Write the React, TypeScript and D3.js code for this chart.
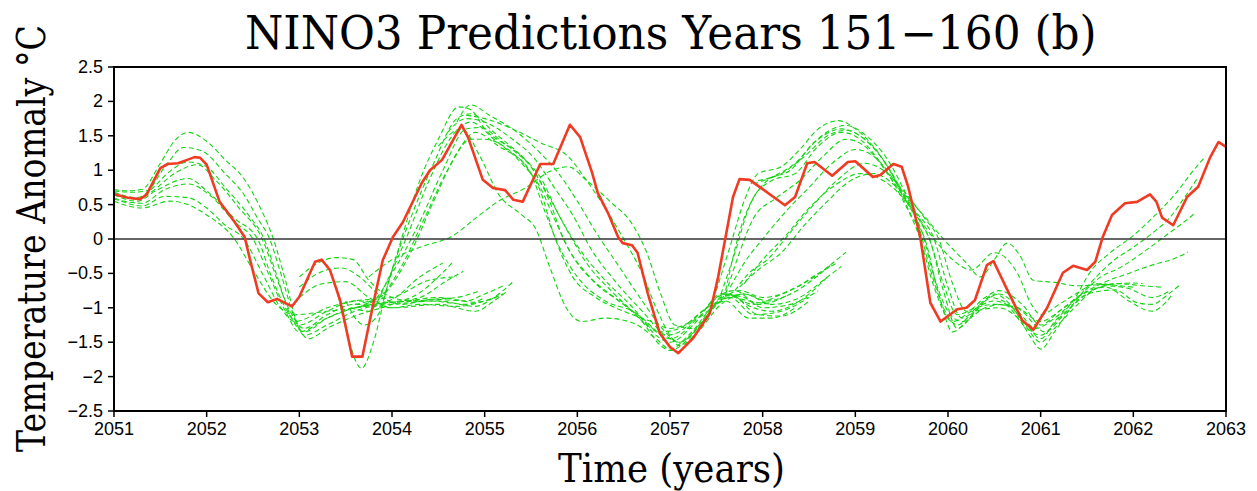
import React, { useEffect, useRef } from "react";
import * as d3 from "d3";

type Pt = [number, number];

// observed NINO3 anomaly (red)
const observed: Pt[] = [
  [2051.0, 0.65], [2051.15, 0.6], [2051.28, 0.58], [2051.35, 0.64], [2051.5, 1.03], [2051.58, 1.09],
  [2051.69, 1.1], [2051.79, 1.15], [2051.87, 1.19], [2051.93, 1.18], [2052.0, 1.08], [2052.14, 0.54],
  [2052.3, 0.25], [2052.41, 0.03], [2052.47, -0.31], [2052.56, -0.79], [2052.66, -0.92], [2052.76, -0.87],
  [2052.92, -0.98], [2053.0, -0.84], [2053.17, -0.33], [2053.24, -0.3], [2053.33, -0.45], [2053.44, -0.89],
  [2053.57, -1.71], [2053.68, -1.71], [2053.8, -0.93], [2053.9, -0.31], [2054.01, 0.03], [2054.12, 0.25],
  [2054.32, 0.81], [2054.41, 1.0], [2054.54, 1.15], [2054.66, 1.44], [2054.75, 1.66], [2054.82, 1.48],
  [2054.98, 0.86], [2055.09, 0.74], [2055.22, 0.71], [2055.31, 0.57], [2055.41, 0.54], [2055.6, 1.09],
  [2055.74, 1.09], [2055.92, 1.66], [2056.03, 1.48], [2056.16, 0.96], [2056.22, 0.67], [2056.33, 0.38],
  [2056.44, 0.03], [2056.49, -0.06], [2056.59, -0.09], [2056.65, -0.2], [2056.76, -0.79], [2056.89, -1.37],
  [2057.0, -1.57], [2057.09, -1.66], [2057.25, -1.44], [2057.43, -1.08], [2057.52, -0.55], [2057.68, 0.61],
  [2057.75, 0.87], [2057.86, 0.86], [2058.24, 0.49], [2058.35, 0.61], [2058.48, 1.1], [2058.56, 1.12],
  [2058.75, 0.92], [2058.92, 1.12], [2059.0, 1.13], [2059.19, 0.9], [2059.27, 0.93], [2059.41, 1.09],
  [2059.5, 1.05], [2059.57, 0.76], [2059.7, 0.03], [2059.81, -0.93], [2059.92, -1.2], [2060.1, -1.02],
  [2060.2, -1.0], [2060.29, -0.89], [2060.42, -0.38], [2060.49, -0.32], [2060.64, -0.74], [2060.8, -1.18],
  [2060.92, -1.32], [2061.07, -1.0], [2061.24, -0.49], [2061.35, -0.39], [2061.5, -0.45], [2061.59, -0.33],
  [2061.67, 0.03], [2061.77, 0.35], [2061.91, 0.52], [2062.04, 0.54], [2062.18, 0.65], [2062.25, 0.54],
  [2062.31, 0.31], [2062.43, 0.2], [2062.58, 0.61], [2062.7, 0.76], [2062.83, 1.19], [2062.92, 1.41],
  [2063.0, 1.34],
];

// forecasts started in 2051-2053
const forecastsA: Pt[][] = [
  [[2051.0, 0.72], [2051.15, 0.7], [2051.3, 0.72], [2051.5, 1.1], [2051.65, 1.42], [2051.8, 1.55], [2052.0, 1.42], [2052.2, 1.15], [2052.4, 0.88], [2052.58, 0.45], [2052.72, 0.0], [2052.85, -0.6], [2052.97, -1.2], [2053.1, -1.45], [2053.3, -1.3], [2053.6, -1.12], [2054.0, -0.95], [2054.3, -0.78], [2054.5, -0.55], [2054.66, -0.33]],
  [[2051.0, 0.7], [2051.2, 0.68], [2051.35, 0.7], [2051.55, 1.05], [2051.75, 1.33], [2051.95, 1.28], [2052.2, 0.95], [2052.4, 0.65], [2052.55, 0.3], [2052.68, 0.0], [2052.8, -0.5], [2052.95, -1.15], [2053.05, -1.4], [2053.3, -1.25], [2053.6, -1.05], [2054.0, -0.92], [2054.3, -0.85], [2054.6, -0.6], [2054.77, -0.47]],
  [[2051.0, 0.68], [2051.25, 0.6], [2051.4, 0.72], [2051.6, 0.98], [2051.8, 1.12], [2052.0, 1.05], [2052.2, 0.75], [2052.45, 0.35], [2052.62, 0.0], [2052.75, -0.5], [2052.9, -1.1], [2053.05, -1.35], [2053.3, -1.15], [2053.6, -1.0], [2054.0, -0.95], [2054.5, -0.9], [2054.9, -0.98], [2055.1, -0.85], [2055.3, -0.63]],
  [[2051.0, 0.66], [2051.25, 0.58], [2051.4, 0.68], [2051.65, 0.95], [2051.9, 1.08], [2052.1, 0.85], [2052.35, 0.45], [2052.6, 0.0], [2052.75, -0.55], [2052.9, -1.05], [2053.05, -1.3], [2053.3, -1.1], [2053.6, -0.95], [2054.0, -1.0], [2054.5, -0.95], [2054.9, -1.05], [2055.1, -0.9], [2055.25, -0.75]],
  [[2051.0, 0.64], [2051.25, 0.55], [2051.45, 0.7], [2051.8, 0.88], [2052.0, 0.7], [2052.3, 0.3], [2052.55, 0.0], [2052.7, -0.55], [2052.85, -1.0], [2053.0, -1.25], [2053.3, -1.05], [2053.6, -0.9], [2054.0, -0.92], [2054.5, -0.85], [2054.9, -0.92], [2055.2, -0.8]],
  [[2051.0, 0.6], [2051.3, 0.48], [2051.55, 0.62], [2051.8, 0.6], [2052.0, 0.45], [2052.2, 0.2], [2052.4, 0.0], [2052.6, -0.5], [2052.8, -1.0], [2052.95, -1.2], [2053.3, -1.0], [2053.6, -0.9], [2054.0, -0.85], [2054.4, -0.6], [2054.7, -0.55]],
  [[2051.0, 0.55], [2051.3, 0.45], [2051.6, 0.55], [2051.8, 0.5], [2052.0, 0.35], [2052.3, 0.0], [2052.5, -0.45], [2052.75, -0.95], [2052.95, -1.1], [2053.3, -1.05], [2053.6, -1.0], [2054.0, -0.88], [2054.3, -0.55], [2054.55, -0.35]],
  [[2051.0, 0.58], [2051.3, 0.52], [2051.55, 0.72], [2051.8, 0.8], [2052.05, 0.62], [2052.3, 0.25], [2052.5, 0.0], [2052.65, -0.45], [2052.85, -1.05], [2053.0, -1.35], [2053.3, -1.15], [2053.6, -1.0], [2054.0, -0.92], [2054.4, -0.9], [2054.8, -0.95], [2055.0, -0.85]],
  [[2053.0, -0.55], [2053.2, -0.35], [2053.4, -0.27], [2053.58, -0.3], [2053.75, -0.6], [2053.95, -0.82], [2054.2, -0.9], [2054.5, -0.88], [2054.8, -0.9], [2055.0, -0.8], [2055.2, -0.68]],
  [[2053.0, -0.7], [2053.2, -0.5], [2053.45, -0.42], [2053.65, -0.55], [2053.85, -0.8], [2054.1, -0.95], [2054.4, -0.88], [2054.7, -0.85], [2054.95, -0.75]],
  [[2053.0, -0.85], [2053.25, -0.65], [2053.5, -0.62], [2053.75, -0.85], [2054.0, -1.0], [2054.3, -0.95], [2054.7, -0.98], [2054.95, -0.92], [2055.2, -0.8]],
];

// forecasts started in 2053-2054
const forecastsB: Pt[][] = [
  [[2053.4, -0.7], [2053.52, -1.4], [2053.67, -1.88], [2053.8, -1.5], [2053.94, -0.74], [2054.08, -0.1], [2054.3, 0.85], [2054.5, 1.45], [2054.72, 1.92], [2054.85, 1.88], [2055.0, 1.6], [2055.3, 1.3], [2055.5, 1.05], [2055.7, 0.6], [2055.9, 0.1], [2056.1, -0.35], [2056.4, -0.8], [2056.7, -1.2], [2056.9, -1.55], [2057.0, -1.62], [2057.2, -1.45], [2057.45, -1.0], [2057.6, -0.8], [2057.9, -0.95], [2058.2, -0.8], [2058.5, -0.6], [2058.9, -0.19]],
  [[2053.5, -0.9], [2053.7, -1.25], [2053.85, -1.1], [2054.0, -0.45], [2054.2, 0.3], [2054.45, 1.1], [2054.7, 1.75], [2054.85, 1.82], [2055.1, 1.55], [2055.4, 1.2], [2055.6, 0.9], [2055.8, 0.35], [2056.0, -0.1], [2056.3, -0.6], [2056.6, -1.0], [2056.85, -1.4], [2057.0, -1.5], [2057.25, -1.25], [2057.5, -0.85], [2057.7, -0.75], [2057.95, -0.95], [2058.3, -0.8], [2058.76, -0.35]],
  [[2053.55, -1.0], [2053.75, -1.05], [2053.95, -0.6], [2054.15, 0.0], [2054.4, 0.85], [2054.65, 1.5], [2054.85, 1.7], [2055.1, 1.45], [2055.4, 1.1], [2055.6, 0.75], [2055.75, 0.3], [2055.95, -0.25], [2056.2, -0.65], [2056.5, -0.95], [2056.8, -1.3], [2057.0, -1.45], [2057.3, -1.15], [2057.55, -0.8], [2057.8, -0.85], [2058.0, -1.0], [2058.3, -0.95], [2058.6, -0.75]],
  [[2053.6, -1.0], [2053.8, -0.9], [2054.0, -0.5], [2054.3, 0.25], [2054.55, 1.0], [2054.8, 1.6], [2054.95, 1.62], [2055.2, 1.4], [2055.5, 1.05], [2055.7, 0.55], [2055.85, 0.0], [2056.1, -0.5], [2056.4, -0.85], [2056.7, -1.15], [2056.95, -1.4], [2057.1, -1.35], [2057.35, -1.05], [2057.6, -0.8], [2057.9, -1.0], [2058.1, -1.05], [2058.4, -0.9], [2058.7, -0.55]],
  [[2053.6, -0.95], [2053.9, -0.8], [2054.1, -0.4], [2054.35, 0.3], [2054.6, 1.0], [2054.85, 1.45], [2055.0, 1.45], [2055.3, 1.25], [2055.5, 0.95], [2055.65, 0.4], [2055.8, -0.1], [2056.0, -0.55], [2056.3, -0.9], [2056.6, -1.05], [2056.9, -1.35], [2057.1, -1.3], [2057.4, -1.0], [2057.65, -0.85], [2057.9, -1.1], [2058.2, -1.05], [2058.5, -0.85]],
  [[2053.7, -0.95], [2053.95, -0.75], [2054.2, -0.2], [2054.45, 0.55], [2054.7, 1.25], [2054.9, 1.55], [2055.15, 1.35], [2055.45, 1.05], [2055.6, 0.7], [2055.75, 0.05], [2055.95, -0.55], [2056.2, -0.85], [2056.5, -1.05], [2056.8, -1.2], [2057.0, -1.3], [2057.3, -1.15], [2057.6, -0.9], [2057.85, -1.15], [2058.1, -1.15], [2058.35, -1.0]],
  [[2054.5, 1.35], [2054.75, 1.6], [2054.95, 1.2], [2055.15, 0.65], [2055.4, 0.35], [2055.55, 0.15], [2055.7, -0.4], [2055.88, -1.0], [2056.05, -1.2], [2056.3, -1.15], [2056.6, -1.22], [2056.85, -1.45], [2057.0, -1.6], [2057.2, -1.4], [2057.45, -1.0], [2057.65, -0.8], [2057.95, -1.1], [2058.2, -1.12], [2058.5, -0.9]],
  [[2053.75, -0.55], [2054.0, -0.3], [2054.3, -0.12], [2054.66, 0.05], [2054.9, 0.3], [2055.15, 0.55], [2055.45, 0.75], [2055.7, 0.98], [2055.9, 1.05], [2056.1, 0.85], [2056.35, 0.55], [2056.6, 0.2], [2056.75, -0.2], [2056.9, -0.8], [2057.05, -1.25], [2057.25, -1.3], [2057.5, -0.95], [2057.75, -0.75], [2058.0, -0.85], [2058.3, -0.75], [2058.6, -0.5], [2058.8, -0.35]],
  [[2054.6, 1.55], [2054.8, 1.75], [2055.0, 1.7], [2055.3, 1.45], [2055.55, 1.15], [2055.75, 0.75], [2055.95, 0.35], [2056.15, -0.15], [2056.4, -0.6], [2056.7, -1.05], [2056.95, -1.4], [2057.1, -1.5], [2057.35, -1.2], [2057.6, -0.82], [2057.85, -0.9], [2058.1, -0.95]],
  [[2054.7, 1.7], [2054.85, 1.95], [2055.05, 1.8], [2055.35, 1.55], [2055.6, 1.25], [2055.8, 0.95], [2056.0, 0.55], [2056.2, 0.1], [2056.45, -0.4], [2056.7, -0.9], [2056.95, -1.35], [2057.1, -1.5], [2057.3, -1.3], [2057.55, -0.9], [2057.8, -0.8], [2058.1, -0.95], [2058.4, -0.85], [2058.7, -0.55], [2058.85, -0.4]],
  [[2054.8, 1.8], [2055.0, 1.75], [2055.3, 1.6], [2055.6, 1.4], [2055.9, 1.2], [2056.1, 0.85], [2056.3, 0.45], [2056.5, 0.0], [2056.7, -0.5], [2056.85, -1.0], [2057.0, -1.4], [2057.1, -1.55], [2057.3, -1.35], [2057.55, -0.95], [2057.8, -0.8], [2058.05, -0.9], [2058.3, -0.8]],
];

// forecasts started in 2057-2058
const forecastsC: Pt[][] = [
  [[2057.5, -0.75], [2057.65, -0.1], [2057.8, 0.55], [2057.95, 0.95], [2058.2, 1.05], [2058.4, 1.3], [2058.6, 1.6], [2058.82, 1.72], [2059.0, 1.6], [2059.25, 1.25], [2059.45, 0.8], [2059.6, 0.35], [2059.75, 0.0], [2059.9, -0.8], [2060.05, -1.35], [2060.2, -1.2], [2060.45, -0.85], [2060.65, -0.95], [2060.85, -1.25], [2061.0, -1.45], [2061.15, -1.2], [2061.35, -0.9], [2061.55, -0.45], [2061.75, -0.2], [2062.0, 0.05], [2062.2, 0.3], [2062.45, 0.65], [2062.65, 1.0], [2062.78, 1.2]],
  [[2057.55, -0.8], [2057.7, -0.2], [2057.85, 0.45], [2058.05, 0.85], [2058.3, 1.0], [2058.55, 1.4], [2058.9, 1.65], [2059.1, 1.52], [2059.35, 1.15], [2059.55, 0.65], [2059.7, 0.25], [2059.8, 0.0], [2059.95, -0.75], [2060.1, -1.3], [2060.3, -1.05], [2060.5, -0.8], [2060.7, -1.0], [2060.88, -1.4], [2061.0, -1.6], [2061.15, -1.35], [2061.35, -0.95], [2061.6, -0.55], [2061.78, -0.32], [2062.0, -0.12], [2062.2, 0.08], [2062.4, 0.32], [2062.55, 0.6], [2062.7, 0.9]],
  [[2057.6, -0.75], [2057.75, 0.1], [2057.9, 0.6], [2058.1, 0.85], [2058.35, 0.95], [2058.6, 1.35], [2058.85, 1.55], [2059.05, 1.45], [2059.3, 1.05], [2059.5, 0.6], [2059.7, 0.0], [2059.85, -0.7], [2060.05, -1.2], [2060.25, -1.05], [2060.5, -0.9], [2060.75, -1.05], [2060.95, -1.3], [2061.15, -1.15], [2061.4, -0.85], [2061.65, -0.55], [2061.85, -0.42], [2062.1, -0.2], [2062.35, 0.05], [2062.55, 0.25], [2062.67, 0.38]],
  [[2057.6, -0.8], [2057.75, -0.2], [2057.9, 0.3], [2058.15, 0.6], [2058.4, 0.85], [2058.65, 1.2], [2058.9, 1.45], [2059.1, 1.35], [2059.35, 0.95], [2059.6, 0.45], [2059.8, 0.0], [2059.95, -0.65], [2060.1, -1.1], [2060.3, -1.0], [2060.5, -0.95], [2060.75, -1.0], [2061.0, -1.2], [2061.2, -1.05], [2061.45, -0.8], [2061.7, -0.62], [2061.95, -0.5], [2062.2, -0.38], [2062.45, -0.28], [2062.59, -0.19]],
  [[2057.65, -0.7], [2057.8, -0.35], [2058.0, 0.0], [2058.25, 0.4], [2058.5, 0.75], [2058.75, 1.1], [2059.0, 1.3], [2059.2, 1.2], [2059.45, 0.8], [2059.65, 0.4], [2059.85, 0.0], [2060.0, -0.7], [2060.15, -1.15], [2060.35, -0.95], [2060.55, -0.8], [2060.8, -1.05], [2061.05, -1.35], [2061.25, -1.1], [2061.5, -0.8], [2061.8, -0.74], [2062.05, -0.93], [2062.2, -0.95], [2062.38, -0.8], [2062.5, -0.67]],
  [[2057.7, -0.75], [2057.85, -0.5], [2058.05, -0.3], [2058.3, 0.1], [2058.55, 0.5], [2058.8, 0.85], [2059.1, 1.1], [2059.3, 1.0], [2059.55, 0.65], [2059.75, 0.3], [2059.9, 0.0], [2060.05, -0.65], [2060.2, -1.05], [2060.4, -0.85], [2060.55, -0.75], [2060.8, -0.95], [2061.0, -1.25], [2061.2, -1.05], [2061.45, -0.8], [2061.7, -0.7], [2061.95, -0.9], [2062.2, -1.05], [2062.35, -0.92], [2062.43, -0.79]],
  [[2057.75, -0.7], [2057.95, -0.45], [2058.2, -0.2], [2058.45, 0.2], [2058.7, 0.55], [2058.95, 0.85], [2059.2, 0.95], [2059.45, 0.75], [2059.7, 0.4], [2059.95, 0.0], [2060.2, -0.35], [2060.35, -0.55], [2060.5, -0.3], [2060.64, -0.06], [2060.78, -0.25], [2060.92, -0.6], [2061.15, -0.63], [2061.4, -0.68], [2061.7, -0.66], [2062.0, -0.64], [2062.1, -0.65]],
  [[2057.8, -0.65], [2058.0, -0.3], [2058.25, 0.05], [2058.5, 0.45], [2058.8, 0.8], [2059.05, 0.95], [2059.3, 0.85], [2059.55, 0.55], [2059.85, 0.0], [2060.05, -0.3], [2060.25, -0.45], [2060.5, -0.2], [2060.75, -0.5], [2060.9, -0.95], [2061.0, -1.1], [2061.2, -0.95], [2061.4, -0.78], [2061.6, -0.65], [2061.85, -0.68], [2062.0, -0.7]],
  [[2057.9, 0.8], [2058.1, 0.9], [2058.35, 1.1], [2058.6, 1.45], [2058.85, 1.6], [2059.05, 1.5], [2059.3, 1.15], [2059.5, 0.7], [2059.68, 0.2], [2059.8, -0.4], [2059.95, -1.0], [2060.1, -1.25], [2060.3, -1.05], [2060.55, -1.0], [2060.8, -1.2], [2061.0, -1.5], [2061.15, -1.3], [2061.4, -0.95], [2061.6, -0.72], [2061.85, -0.65], [2062.1, -0.68], [2062.3, -0.7]],
  [[2057.95, 0.85], [2058.2, 0.95], [2058.45, 1.2], [2058.7, 1.5], [2058.9, 1.58], [2059.1, 1.45], [2059.35, 1.05], [2059.55, 0.55], [2059.72, 0.1], [2059.85, -0.55], [2060.0, -1.05], [2060.15, -1.2], [2060.4, -1.0], [2060.6, -0.95], [2060.85, -1.3], [2061.0, -1.4], [2061.2, -1.15], [2061.45, -0.85], [2061.7, -0.68], [2061.95, -0.72], [2062.2, -0.85], [2062.4, -0.75]],
];

const xTicks = [2051, 2052, 2053, 2054, 2055, 2056, 2057, 2058, 2059, 2060, 2061, 2062, 2063];
const yTicks = [2.5, 2, 1.5, 1, 0.5, 0, -0.5, -1, -1.5, -2, -2.5];

const title = "NINO3 Predictions Years 151\u2212160 (b)";
const yTitle = "Temperature Anomaly \u00B0C";
const xTitle = "Time (years)";

const W = 1257;
const H = 491;

const App = () => {
  const svgRef = useRef<SVGSVGElement | null>(null);

  useEffect(() => {
    if (!svgRef.current) return;
    const svg = d3.select(svgRef.current);
    svg.selectAll("*").remove();

    const left = 114, right = 1226, top = 67, bottom = 411;

    const x = d3.scaleLinear().domain([2051, 2063]).range([left, right]);
    const y = d3.scaleLinear().domain([-2.5, 2.5]).range([bottom, top]);

    svg.append("rect").attr("width", W).attr("height", H).attr("fill", "#fff");

    const clip = svg.append("clipPath").attr("id", "plotclip");
    clip.append("rect").attr("x", left).attr("y", top).attr("width", right - left).attr("height", bottom - top);

    const plot = svg.append("g").attr("clip-path", "url(#plotclip)");

    // green forecast members
    const smooth = d3
      .line<Pt>()
      .x((d) => x(d[0]))
      .y((d) => y(d[1]))
      .curve(d3.curveMonotoneX);

    [...forecastsA, ...forecastsB, ...forecastsC].forEach((series) => {
      plot
        .append("path")
        .attr("d", smooth(series))
        .attr("fill", "none")
        .attr("stroke", "#14d414")
        .attr("stroke-width", 1.1)
        .attr("stroke-dasharray", "5,3");
    });

    // zero line
    plot
      .append("line")
      .attr("x1", left)
      .attr("x2", right)
      .attr("y1", y(0))
      .attr("y2", y(0))
      .attr("stroke", "#333")
      .attr("stroke-width", 1.5);

    // observed
    const straight = d3
      .line<Pt>()
      .x((d) => x(d[0]))
      .y((d) => y(d[1]));

    plot
      .append("path")
      .attr("d", straight(observed))
      .attr("fill", "none")
      .attr("stroke", "#f03a22")
      .attr("stroke-width", 2.6)
      .attr("stroke-linejoin", "round");

    // frame
    svg
      .append("rect")
      .attr("x", left)
      .attr("y", top)
      .attr("width", right - left)
      .attr("height", bottom - top)
      .attr("fill", "none")
      .attr("stroke", "#000")
      .attr("stroke-width", 2);

    const fmt = (v: number) => String(v).replace("-", "\u2212");

    // y ticks
    yTicks.forEach((t) => {
      svg
        .append("line")
        .attr("x1", left - 6)
        .attr("x2", left)
        .attr("y1", y(t))
        .attr("y2", y(t))
        .attr("stroke", "#000")
        .attr("stroke-width", 1.5);
      svg
        .append("text")
        .attr("x", left - 11)
        .attr("y", y(t))
        .attr("text-anchor", "end")
        .attr("dominant-baseline", "central")
        .attr("font-family", "Liberation Sans, Arial, sans-serif")
        .attr("font-size", 18)
        .attr("fill", "#000")
        .text(fmt(t));
    });

    // x ticks
    xTicks.forEach((t) => {
      svg
        .append("line")
        .attr("x1", x(t))
        .attr("x2", x(t))
        .attr("y1", bottom)
        .attr("y2", bottom + 6)
        .attr("stroke", "#000")
        .attr("stroke-width", 1.5);
      svg
        .append("text")
        .attr("x", x(t))
        .attr("y", bottom + 18)
        .attr("text-anchor", "middle")
        .attr("dominant-baseline", "central")
        .attr("font-family", "Liberation Sans, Arial, sans-serif")
        .attr("font-size", 18)
        .attr("fill", "#000")
        .text(t);
    });

    // condensed slab-serif titles: squeeze to the measured width
    const squeezed = (label: string, size: number, width: number, place: string) => {
      const t = svg
        .append("text")
        .attr("x", 0)
        .attr("y", 0)
        .attr("font-family", "'DejaVu Serif', serif")
        .attr("font-size", size)
        .attr("fill", "#000")
        .text(label);
      const natural = (t.node() as SVGTextElement).getComputedTextLength() || width;
      t.attr("transform", `${place} scale(${width / natural},1)`);
    };

    squeezed(title, 46, 852, "translate(245,49)");
    squeezed(xTitle, 39, 227, "translate(558,482)");
    squeezed(yTitle, 40, 427, "translate(45,452) rotate(-90)");
  }, []);

  return (
    <div style={{ position: "absolute", left: 0, top: 0, width: W, height: H }}>
      <svg ref={svgRef} width={W} height={H} style={{ display: "block" }} />
    </div>
  );
};

export default App;
